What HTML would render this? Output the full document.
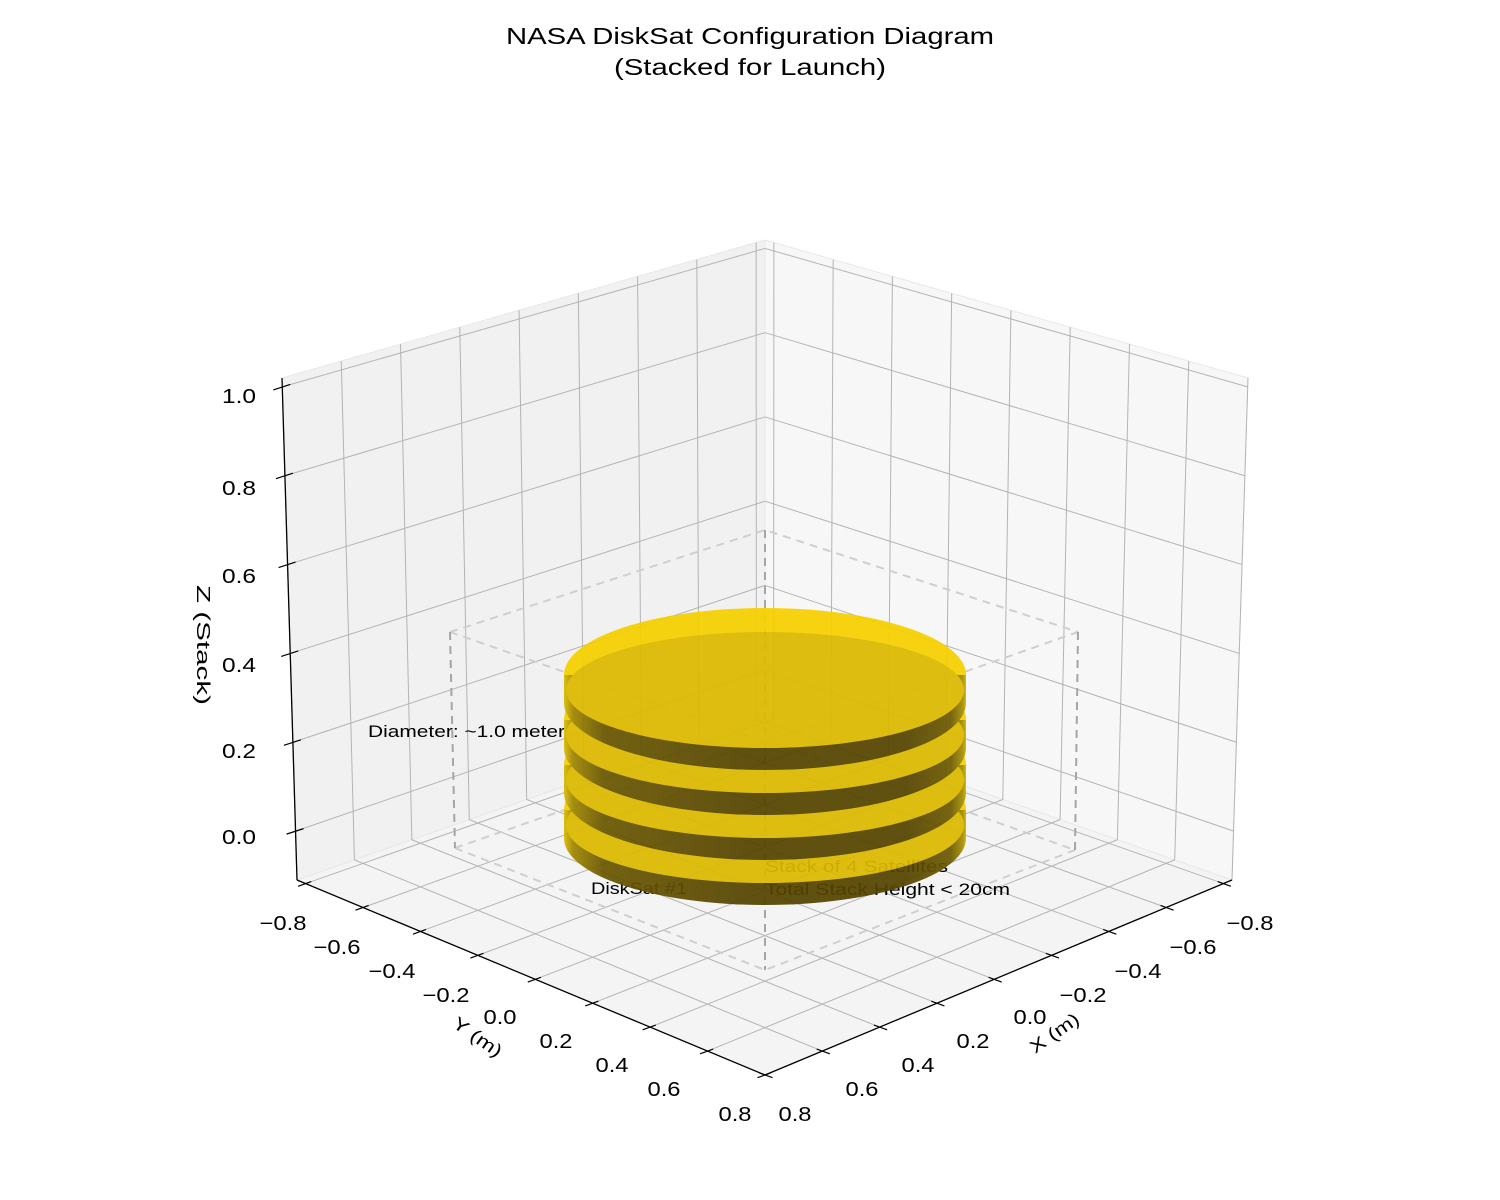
<!DOCTYPE html>
<html><head><meta charset="utf-8"><style>
html,body{margin:0;padding:0;background:#fff;}
svg{display:block;font-family:"Liberation Sans",sans-serif;}
</style></head><body>
<svg id="s" width="1500" height="1200" viewBox="0 0 1500 1200" xmlns="http://www.w3.org/2000/svg">
<defs>
<linearGradient id="side" x1="563" x2="967" y1="0" y2="0" gradientUnits="userSpaceOnUse">
<stop offset="0" stop-color="#e2c200"/>
<stop offset="0.025" stop-color="#a08600"/>
<stop offset="0.1" stop-color="#6a5700"/>
<stop offset="0.45" stop-color="#554500"/>
<stop offset="0.85" stop-color="#554500"/>
<stop offset="0.96" stop-color="#6e5b00"/>
<stop offset="0.99" stop-color="#a89000"/>
<stop offset="1" stop-color="#e0c000"/>
</linearGradient>
</defs>
<g id="axes"></g>
<g id="dash" fill="none" stroke-width="2" stroke-dasharray="8,6">
<g stroke="#cfcfcf">
<polyline points="450,632 765,530 1078,632"/>
<polyline points="450,632 765,742 1078,632"/>
<polyline points="455,848 765,740 1075,850"/>
<polyline points="455,848 765,970 1075,850"/>
</g>
<g stroke="#a5a5a5">
<line x1="450" y1="632" x2="455" y2="848"/>
<line x1="1078" y1="632" x2="1075" y2="850"/>
<line x1="765" y1="530" x2="765" y2="740"/>
<line x1="765" y1="742" x2="765" y2="970"/>
</g>
</g>
<g font-size="17" fill="#000">
<text x="368" y="737" textLength="197" lengthAdjust="spacingAndGlyphs">Diameter: ~1.0 meter</text>
<text x="591" y="894" textLength="96" lengthAdjust="spacingAndGlyphs">DiskSat #1</text>
<text x="765" y="872" textLength="183" lengthAdjust="spacingAndGlyphs">Stack of 4 Satellites</text>
<text x="765" y="895" textLength="245" lengthAdjust="spacingAndGlyphs">Total Stack Height &lt; 20cm</text>
</g>
<g id="disks" opacity="0.93"></g>
<g font-size="23" text-anchor="middle" fill="#000">
<text x="750" y="44" textLength="488" lengthAdjust="spacingAndGlyphs">NASA DiskSat Configuration Diagram</text>
<text x="750" y="75" textLength="272" lengthAdjust="spacingAndGlyphs">(Stacked for Launch)</text>
</g>
<g id="labels" font-size="20" fill="#000"></g>
</svg>
<script>
var NS="http://www.w3.org/2000/svg";
function el(p,t,a,txt){var e=document.createElementNS(NS,t);for(var k in a)e.setAttribute(k,a[k]);if(txt!==undefined)e.textContent=txt;p.appendChild(e);return e;}
var lo=-0.83,hi=0.8,zmin=-0.11,zmax=1.02;
var F=[765,1075],L=[297,880],R=[1232,880],B=[765,716],Lt=[282,378],Rt=[1248,378],Bt=[765,240];
function mix(a,b,t){return [a[0]+(b[0]-a[0])*t,a[1]+(b[1]-a[1])*t];}
function floorP(x,y){var u=(hi-x)/(hi-lo),w=(hi-y)/(hi-lo);
 var a=mix(F,R,u),b=mix(L,B,u);return mix(a,b,w);}
function leftP(x,z){var u=(hi-x)/(hi-lo),v=(z-zmin)/(zmax-zmin);
 var a=mix(L,B,u),b=mix(Lt,Bt,u);return mix(a,b,v);}
function rightP(y,z){var u=(hi-y)/(hi-lo),v=(z-zmin)/(zmax-zmin);
 var a=mix(R,B,u),b=mix(Rt,Bt,u);return mix(a,b,v);}
var g=document.getElementById('axes');
function poly(pts,fill){el(g,'polygon',{points:pts.map(function(p){return p.join(',')}).join(' '),fill:fill,stroke:'#e8e8e8','stroke-width':1});}
poly([L,B,Bt,Lt],'#f1f1f1');
poly([R,B,Bt,Rt],'#f7f7f7');
poly([F,R,B,L],'#f4f4f4');
function ln(a,b,c,w){el(g,'line',{x1:a[0],y1:a[1],x2:b[0],y2:b[1],stroke:c,'stroke-width':w});}
var gc='#b4b4b4';
var ticks=[-0.8,-0.6,-0.4,-0.2,0,0.2,0.4,0.6,0.8];
var zt=[0,0.2,0.4,0.6,0.8,1.0];
ticks.forEach(function(t){
 ln(floorP(t,lo),floorP(t,hi),gc,1);
 ln(floorP(lo,t),floorP(hi,t),gc,1);
 ln(leftP(t,zmin),leftP(t,zmax),gc,1);
 ln(rightP(t,zmin),rightP(t,zmax),gc,1);
});
zt.forEach(function(z){ln(leftP(hi,z),leftP(lo,z),gc,1);ln(rightP(hi,z),rightP(lo,z),gc,1);});
ln(L,F,'#000',1.3);ln(R,F,'#000',1.3);ln(L,Lt,'#000',1.3);
ticks.forEach(function(t){
 var p=floorP(hi,t);
 ln([p[0]+6*0.94,p[1]-6*0.34],[p[0]-8*0.94,p[1]+8*0.34],'#000',1.2);
 var q=floorP(t,hi);
 ln([q[0]-6*0.94,q[1]-6*0.34],[q[0]+8*0.94,q[1]+8*0.34],'#000',1.2);
});
zt.forEach(function(z){var p=leftP(hi,z);ln([p[0]+8,p[1]-2.5],[p[0]-9,p[1]+3],'#000',1.2);});
var lb=document.getElementById('labels');
var yl=[[283,922],[337,946],[392,970],[446,994],[500,1016],[556,1040],[612,1064],[664,1088],[735,1113]];
var xl=[[1250,922],[1193,946],[1138,970],[1083,994],[1030,1016],[973,1040],[918,1064],[862,1088],[795,1113]];
var names=['\u22120.8','\u22120.6','\u22120.4','\u22120.2','0.0','0.2','0.4','0.6','0.8'];
for(var i=0;i<9;i++){
 var w=i<4?47:33;
 el(lb,'text',{x:yl[i][0]-w/2,y:yl[i][1]+8,textLength:w,lengthAdjust:'spacingAndGlyphs'},names[i]);
 el(lb,'text',{x:xl[i][0]-w/2,y:xl[i][1]+8,textLength:w,lengthAdjust:'spacingAndGlyphs'},names[i]);
}
var zl=[[836,'0.0'],[750,'0.2'],[664,'0.4'],[575,'0.6'],[487,'0.8'],[395,'1.0']];
zl.forEach(function(a){el(lb,'text',{x:222,y:a[0]+8,textLength:34,lengthAdjust:'spacingAndGlyphs'},a[1]);});
el(lb,'text',{x:-28,y:0,'font-size':18,textLength:56,lengthAdjust:'spacingAndGlyphs',transform:'translate(474,1042) rotate(35)'},'Y (m)');
el(lb,'text',{x:-28,y:0,'font-size':18,textLength:56,lengthAdjust:'spacingAndGlyphs',transform:'translate(1058,1038) rotate(-35)'},'X (m)');
el(lb,'text',{x:-60,y:0,'font-size':18,textLength:120,lengthAdjust:'spacingAndGlyphs',transform:'translate(197,645) rotate(90)'},'Z (Stack)');
var d=document.getElementById('disks');
for(var k=3;k>=0;k--){
 var cy=675+45*k, rx=201, ry=67, h=28;
 el(d,'ellipse',{cx:765,cy:cy,rx:rx,ry:ry,fill:'#f6d000'});
 el(d,'path',{d:'M'+(765-rx)+','+cy+' L'+(765-rx)+','+(cy+h)+' A'+rx+' '+ry+' 0 0 0 '+(765+rx)+','+(cy+h)+' L'+(765+rx)+','+cy+' Z',fill:'url(#side)'});
 el(d,'ellipse',{cx:765,cy:cy+15,rx:199,ry:58,fill:'#ddb900'});
}
</script>
</body></html>
